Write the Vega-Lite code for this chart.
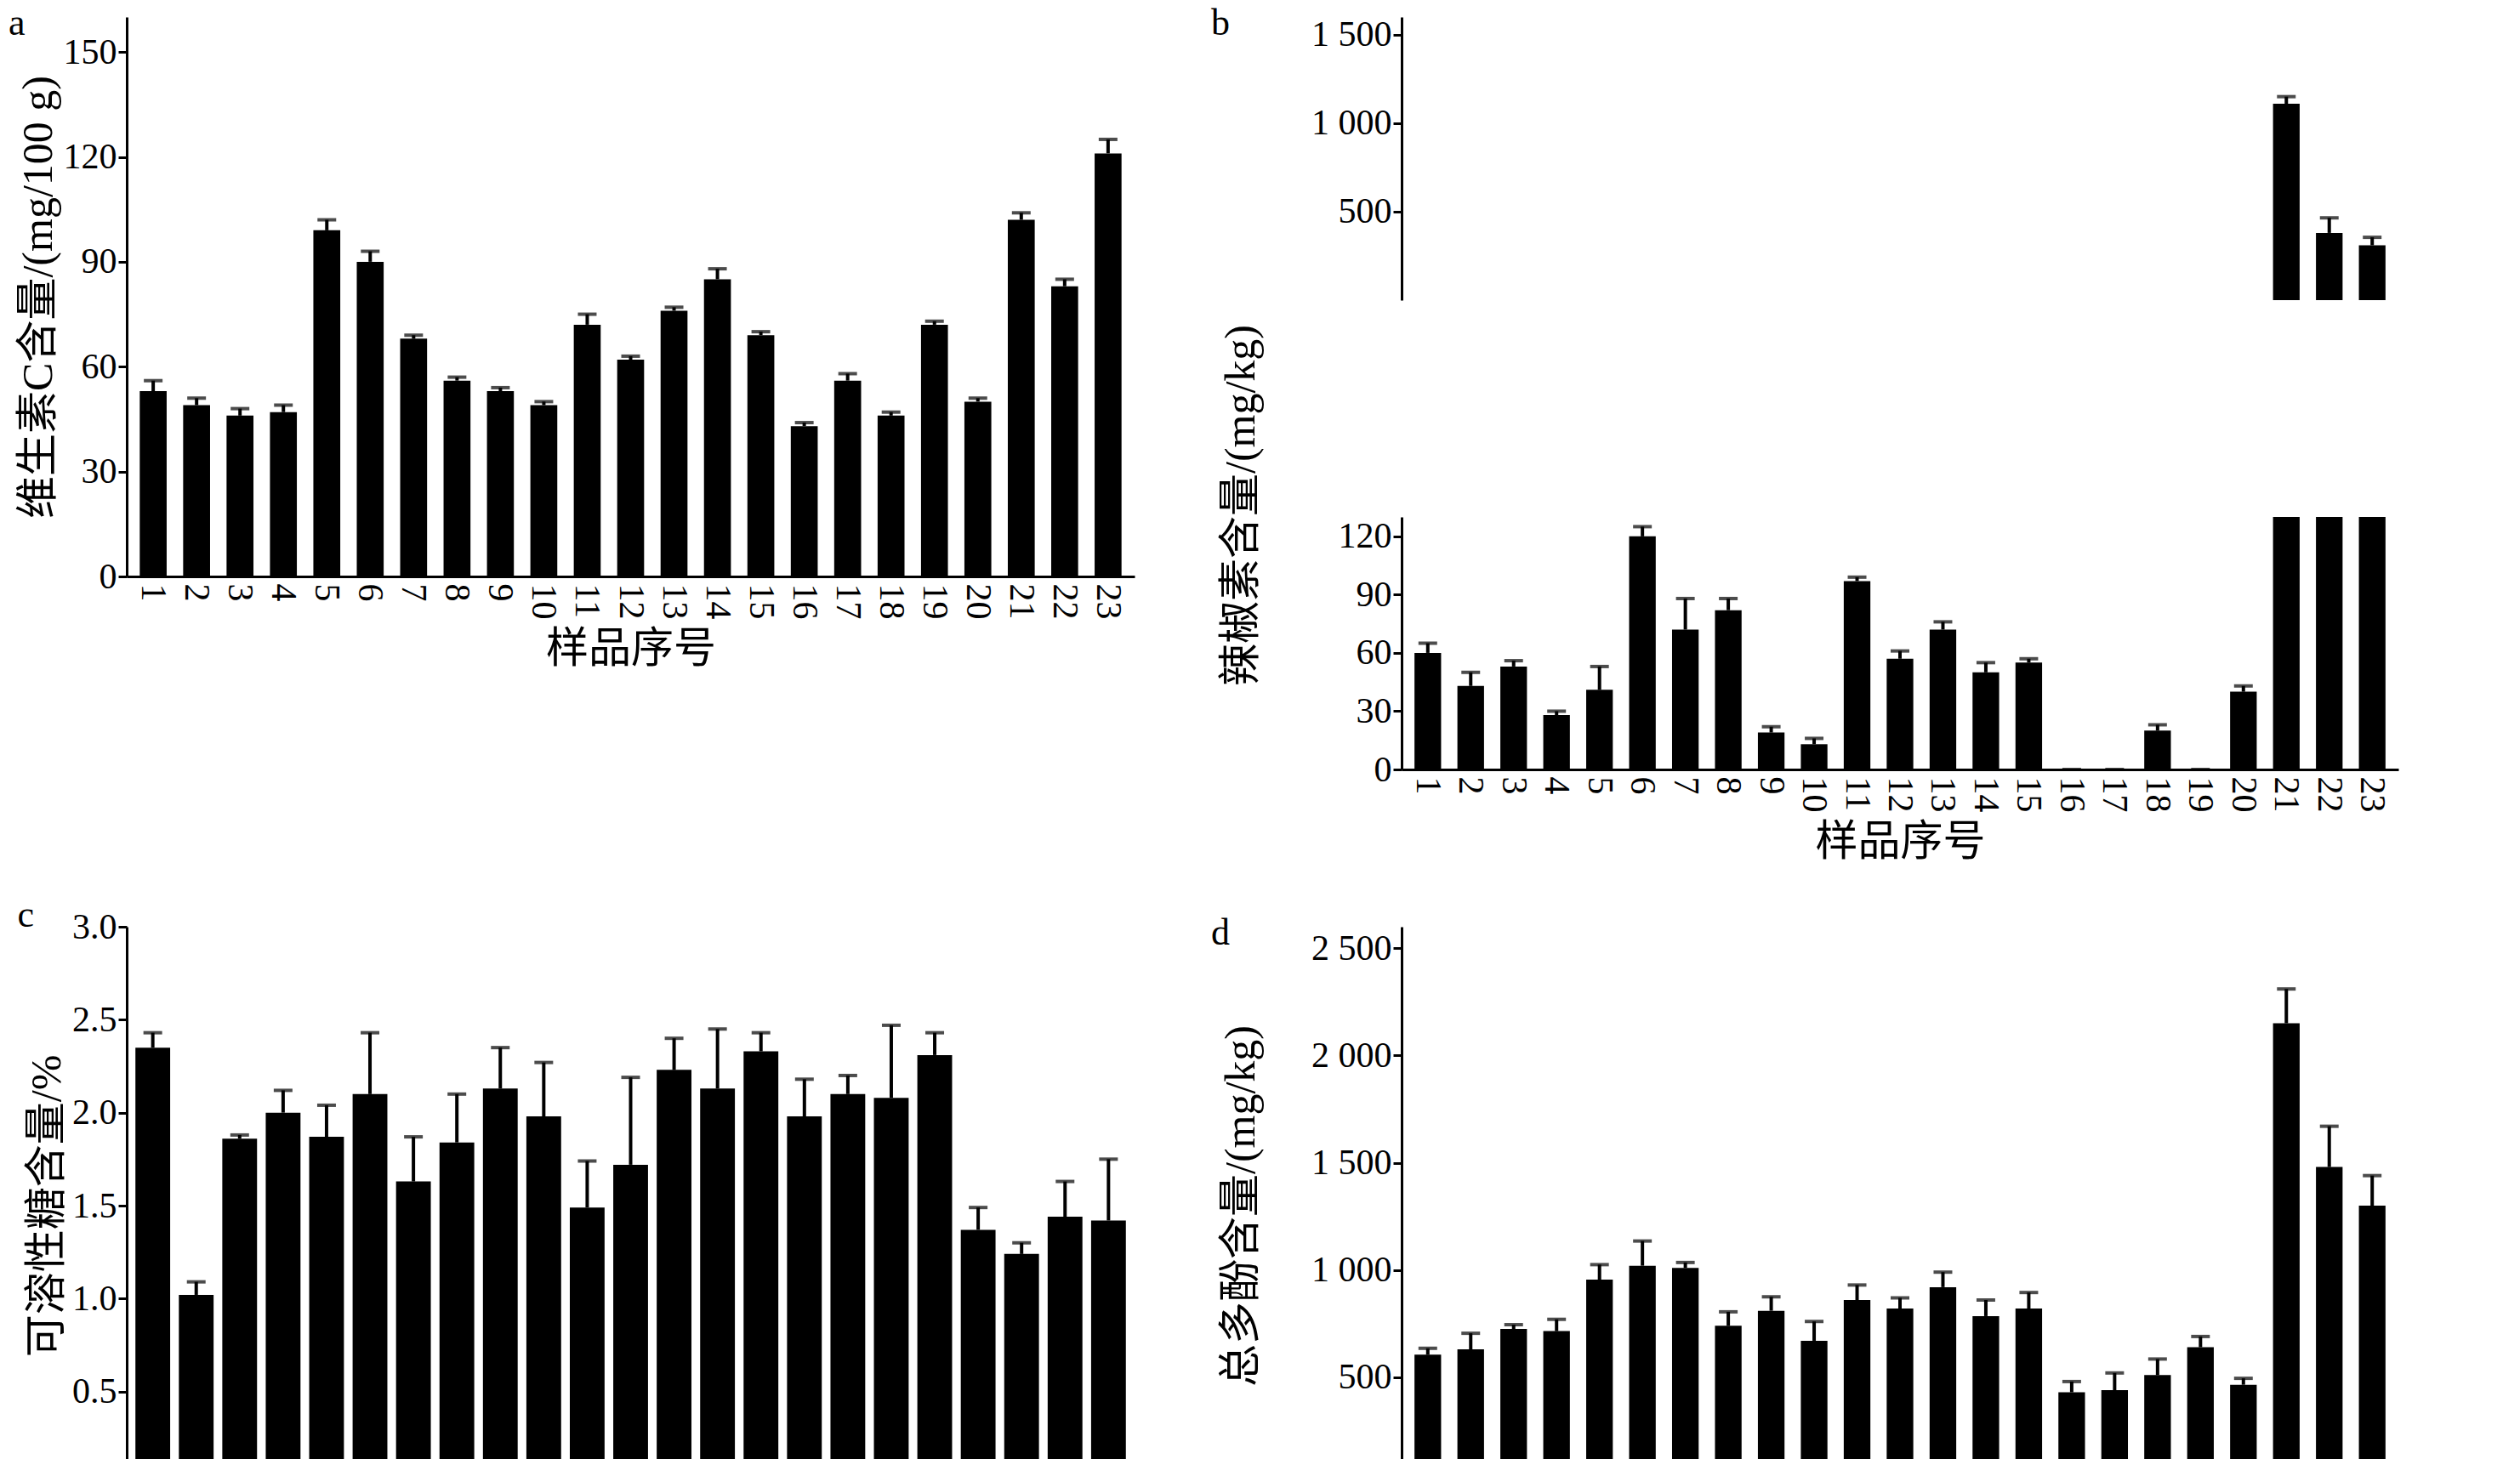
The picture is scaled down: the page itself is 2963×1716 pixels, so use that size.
{
  "$schema": "https://vega.github.io/schema/vega-lite/v6.json",
  "background": "white",
  "padding": {"left": 10, "top": 5, "right": 10, "bottom": 5},
  "config": {
    "font": "Liberation Serif, Noto Sans CJK SC",
    "view": {"stroke": null},
    "axis": {"labelFont": "Liberation Serif", "labelFontSize": 42, "labelColor": "black", "titleFont": "Liberation Serif, Noto Sans CJK SC", "titleFontSize": 50, "titleFontWeight": "normal", "titleColor": "black", "domainColor": "black", "domainWidth": 3, "tickColor": "black", "tickWidth": 3, "tickSize": 10, "grid": false},
    "axisX": {"labelAngle": 90, "labelAlign": "left", "labelBaseline": "middle", "ticks": false, "labelPadding": 8, "titlePadding": 10},
    "title": {"font": "Liberation Serif", "fontSize": 44, "fontWeight": "normal", "anchor": "start", "frame": "bounds", "offset": -30, "color": "black"}
  },
  "datasets": {
    "a": [
      {"s": 1, "v": 53, "e": 56}, {"s": 2, "v": 49, "e": 51}, {"s": 3, "v": 46, "e": 48}, {"s": 4, "v": 47, "e": 49},
      {"s": 5, "v": 99, "e": 102}, {"s": 6, "v": 90, "e": 93}, {"s": 7, "v": 68, "e": 69}, {"s": 8, "v": 56, "e": 57},
      {"s": 9, "v": 53, "e": 54}, {"s": 10, "v": 49, "e": 50}, {"s": 11, "v": 72, "e": 75}, {"s": 12, "v": 62, "e": 63},
      {"s": 13, "v": 76, "e": 77}, {"s": 14, "v": 85, "e": 88}, {"s": 15, "v": 69, "e": 70}, {"s": 16, "v": 43, "e": 44},
      {"s": 17, "v": 56, "e": 58}, {"s": 18, "v": 46, "e": 47}, {"s": 19, "v": 72, "e": 73}, {"s": 20, "v": 50, "e": 51},
      {"s": 21, "v": 102, "e": 104}, {"s": 22, "v": 83, "e": 85}, {"s": 23, "v": 121, "e": 125}
    ],
    "b": [
      {"s": 1, "v": 60, "e": 65}, {"s": 2, "v": 43, "e": 50}, {"s": 3, "v": 53, "e": 56}, {"s": 4, "v": 28, "e": 30},
      {"s": 5, "v": 41, "e": 53}, {"s": 6, "v": 120, "e": 125}, {"s": 7, "v": 72, "e": 88}, {"s": 8, "v": 82, "e": 88},
      {"s": 9, "v": 19, "e": 22}, {"s": 10, "v": 13, "e": 16}, {"s": 11, "v": 97, "e": 99}, {"s": 12, "v": 57, "e": 61},
      {"s": 13, "v": 72, "e": 76}, {"s": 14, "v": 50, "e": 55}, {"s": 15, "v": 55, "e": 57}, {"s": 16, "v": 0, "e": 0},
      {"s": 17, "v": 0, "e": 0}, {"s": 18, "v": 20, "e": 23}, {"s": 19, "v": 0, "e": 0}, {"s": 20, "v": 40, "e": 43},
      {"s": 21, "v": 1110, "e": 1150}, {"s": 22, "v": 380, "e": 465}, {"s": 23, "v": 310, "e": 355}
    ],
    "c": [
      {"s": 1, "v": 2.35, "e": 2.43}, {"s": 2, "v": 1.02, "e": 1.09}, {"s": 3, "v": 1.86, "e": 1.88}, {"s": 4, "v": 2.0, "e": 2.12},
      {"s": 5, "v": 1.87, "e": 2.04}, {"s": 6, "v": 2.1, "e": 2.43}, {"s": 7, "v": 1.63, "e": 1.87}, {"s": 8, "v": 1.84, "e": 2.1},
      {"s": 9, "v": 2.13, "e": 2.35}, {"s": 10, "v": 1.98, "e": 2.27}, {"s": 11, "v": 1.49, "e": 1.74}, {"s": 12, "v": 1.72, "e": 2.19},
      {"s": 13, "v": 2.23, "e": 2.4}, {"s": 14, "v": 2.13, "e": 2.45}, {"s": 15, "v": 2.33, "e": 2.43}, {"s": 16, "v": 1.98, "e": 2.18},
      {"s": 17, "v": 2.1, "e": 2.2}, {"s": 18, "v": 2.08, "e": 2.47}, {"s": 19, "v": 2.31, "e": 2.43}, {"s": 20, "v": 1.37, "e": 1.49},
      {"s": 21, "v": 1.24, "e": 1.3}, {"s": 22, "v": 1.44, "e": 1.63}, {"s": 23, "v": 1.42, "e": 1.75}
    ],
    "d": [
      {"s": 1, "v": 605, "e": 635}, {"s": 2, "v": 630, "e": 705}, {"s": 3, "v": 725, "e": 745}, {"s": 4, "v": 715, "e": 770},
      {"s": 5, "v": 955, "e": 1025}, {"s": 6, "v": 1020, "e": 1135}, {"s": 7, "v": 1010, "e": 1035}, {"s": 8, "v": 740, "e": 805},
      {"s": 9, "v": 810, "e": 875}, {"s": 10, "v": 670, "e": 760}, {"s": 11, "v": 860, "e": 930}, {"s": 12, "v": 820, "e": 870},
      {"s": 13, "v": 920, "e": 990}, {"s": 14, "v": 785, "e": 860}, {"s": 15, "v": 820, "e": 895}, {"s": 16, "v": 430, "e": 480},
      {"s": 17, "v": 440, "e": 520}, {"s": 18, "v": 510, "e": 585}, {"s": 19, "v": 640, "e": 690}, {"s": 20, "v": 465, "e": 495},
      {"s": 21, "v": 2150, "e": 2310}, {"s": 22, "v": 1480, "e": 1670}, {"s": 23, "v": 1300, "e": 1440}
    ]
  },
  "vconcat": [
    {
      "hconcat": [
        {
          "title": {"text": "a", "dx": -10},
          "data": {"name": "a"},
          "width": 1185, "height": 658,
          "encoding": {"x": {"field": "s", "type": "ordinal", "title": "样品序号", "scale": {"paddingInner": 0.38, "paddingOuter": 0.3}}},
          "layer": [
            {"mark": {"type": "bar", "color": "black"}, "encoding": {"y": {"field": "v", "type": "quantitative", "title": "维生素C含量/(mg/100 g)", "scale": {"domain": [0, 150]}, "axis": {"values": [0, 30, 60, 90, 120, 150]}}}},
            {"mark": {"type": "rule", "color": "black", "strokeWidth": 4}, "encoding": {"y": {"field": "v", "type": "quantitative"}, "y2": {"field": "e"}}},
            {"mark": {"type": "tick", "color": "black", "thickness": 4, "size": 22}, "encoding": {"y": {"field": "e", "type": "quantitative"}}}
          ]
        },
        {
          "title": {"text": "b", "dx": -10},
          "data": {"name": "b"},
          "spacing": 28,
          "vconcat": [
            {
              "width": 1172, "height": 333,
              "transform": [{"filter": "datum.s >= 21"}],
              "encoding": {"x": {"field": "s", "type": "ordinal", "scale": {"domain": [1, 2, 3, 4, 5, 6, 7, 8, 9, 10, 11, 12, 13, 14, 15, 16, 17, 18, 19, 20, 21, 22, 23], "paddingInner": 0.38, "paddingOuter": 0.3}, "axis": null}},
              "layer": [
                {"mark": {"type": "bar", "color": "black", "clip": true}, "encoding": {"y": {"field": "v", "type": "quantitative", "title": null, "scale": {"domain": [80, 1500]}, "axis": {"values": [500, 1000, 1500], "labelExpr": "replace(format(datum.value, ','), ',', ' ')", "minExtent": 160}}}},
                {"mark": {"type": "rule", "color": "black", "strokeWidth": 4}, "encoding": {"y": {"field": "v", "type": "quantitative"}, "y2": {"field": "e"}}},
                {"mark": {"type": "tick", "color": "black", "thickness": 4, "size": 22}, "encoding": {"y": {"field": "e", "type": "quantitative"}}}
              ]
            },
            {
              "width": 1172, "height": 297,
              "encoding": {"x": {"field": "s", "type": "ordinal", "title": "样品序号", "scale": {"paddingInner": 0.38, "paddingOuter": 0.3}}},
              "layer": [
                {"mark": {"type": "bar", "color": "black", "clip": true}, "encoding": {"y": {"field": "v", "type": "quantitative", "title": "辣椒素含量/(mg/kg)", "scale": {"domain": [0, 126]}, "axis": {"values": [0, 30, 60, 90, 120], "titleY": -14, "minExtent": 160}}}},
                {"mark": {"type": "rule", "color": "black", "strokeWidth": 4, "clip": true}, "encoding": {"y": {"field": "v", "type": "quantitative"}, "y2": {"field": "e"}}},
                {"mark": {"type": "tick", "color": "black", "thickness": 4, "size": 22, "clip": true}, "encoding": {"y": {"field": "e", "type": "quantitative"}}}
              ]
            }
          ]
        }
      ],
      "spacing": 90
    },
    {
      "hconcat": [
        {
          "title": {"text": "c", "dx": -10},
          "data": {"name": "c"},
          "width": 1185, "height": 656,
          "encoding": {"x": {"field": "s", "type": "ordinal", "title": "样品序号", "scale": {"paddingInner": 0.2, "paddingOuter": 0.2}}},
          "layer": [
            {"mark": {"type": "bar", "color": "black"}, "encoding": {"y": {"field": "v", "type": "quantitative", "title": "可溶性糖含量/%", "scale": {"domain": [0, 3]}, "axis": {"values": [0, 0.5, 1, 1.5, 2, 2.5, 3], "labelExpr": "datum.value == 0 ? '0' : format(datum.value, '.1f')"}}}},
            {"mark": {"type": "rule", "color": "black", "strokeWidth": 4}, "encoding": {"y": {"field": "v", "type": "quantitative"}, "y2": {"field": "e"}}},
            {"mark": {"type": "tick", "color": "black", "thickness": 4, "size": 22}, "encoding": {"y": {"field": "e", "type": "quantitative"}}}
          ]
        },
        {
          "title": {"text": "d", "dx": -10},
          "data": {"name": "d"},
          "width": 1172, "height": 656,
          "encoding": {"x": {"field": "s", "type": "ordinal", "title": "样品序号", "scale": {"paddingInner": 0.38, "paddingOuter": 0.3}}},
          "layer": [
            {"mark": {"type": "bar", "color": "black"}, "encoding": {"y": {"field": "v", "type": "quantitative", "title": "总多酚含量/(mg/kg)", "scale": {"domain": [0, 2500]}, "axis": {"values": [0, 500, 1000, 1500, 2000, 2500], "labelExpr": "replace(format(datum.value, ','), ',', ' ')", "minExtent": 160}}}},
            {"mark": {"type": "rule", "color": "black", "strokeWidth": 4}, "encoding": {"y": {"field": "v", "type": "quantitative"}, "y2": {"field": "e"}}},
            {"mark": {"type": "tick", "color": "black", "thickness": 4, "size": 22}, "encoding": {"y": {"field": "e", "type": "quantitative"}}}
          ]
        }
      ],
      "spacing": 90
    }
  ],
  "spacing": 40
}
